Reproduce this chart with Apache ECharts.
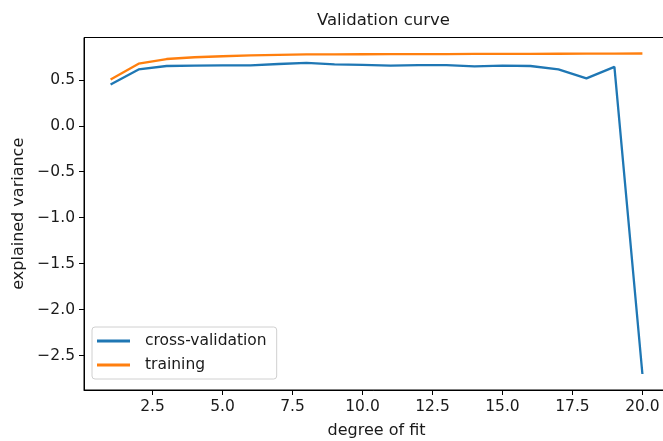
<!DOCTYPE html>
<html>
<head>
<meta charset="utf-8">
<script src="https://cdn.jsdelivr.net/npm/echarts@6/dist/echarts.min.js"></script>
<style>
  html, body { margin: 0; padding: 0; background: #fff; }
  #chart-container { width: 663px; height: 441px; }
</style>
</head>
<body>
<div id="chart-container"></div>
<script>
// degree of the polynomial fit
const degrees = [1, 2, 3, 4, 5, 6, 7, 8, 9, 10, 11, 12, 13, 14, 15, 16, 17, 18, 19, 20];
// explained variance scores
const cvScores = [0.45, 0.613, 0.65, 0.654, 0.657, 0.657, 0.672, 0.683, 0.668, 0.663,
                  0.654, 0.66, 0.66, 0.646, 0.654, 0.65, 0.613, 0.515, 0.64, -2.70];
const trainScores = [0.504, 0.675, 0.726, 0.745, 0.756, 0.765, 0.772, 0.776, 0.777, 0.778,
                     0.779, 0.780, 0.780, 0.781, 0.781, 0.782, 0.783, 0.784, 0.785, 0.786];
const xTicks = [2.5, 5.0, 7.5, 10.0, 12.5, 15.0, 17.5, 20.0];
const yTicks = [-2.5, -2.0, -1.5, -1.0, -0.5, 0.0, 0.5];

const FONT = "DejaVu Sans";
const TXT = "#1a1a1a";

function fmt(v) {
  // matplotlib uses a real minus sign
  return v < 0 ? "\u2212" + Math.abs(v).toFixed(1) : v.toFixed(1);
}

const chart = echarts.init(document.getElementById("chart-container"));

const option = {
  animation: false,
  backgroundColor: "#fff",
  title: {
    text: "Validation curve",
    left: 312,
    top: 7,
    textStyle: { fontFamily: FONT, fontSize: 16.5, fontWeight: "normal", color: TXT },
  },
  legend: {
    orient: "vertical",
    left: 92,
    top: 327,
    padding: [6, 10, 6, 5],
    itemGap: 8,
    itemWidth: 33,
    itemHeight: 3,
    icon: "rect",
    borderColor: "#d0d0d0",
    borderWidth: 1,
    borderRadius: 3,
    backgroundColor: "rgba(255,255,255,0.8)",
    textStyle: { fontFamily: FONT, fontSize: 15.5, color: TXT, padding: [0, 0, 0, 10] },
    data: ["cross-validation", "training"],
  },
  grid: {
    left: 84,
    top: 37.5,
    bottom: 51,
    right: -6,
    show: true,
    borderColor: "#000",
    borderWidth: 1,
    containLabel: false,
    outerBoundsMode: "none",
  },
  xAxis: {
    type: "value",
    min: 0.05,
    max: 20.95,
    name: "degree of fit",
    nameLocation: "middle",
    nameGap: 33,
    nameTextStyle: { fontFamily: FONT, fontSize: 16, color: TXT },
    axisLine: { show: true, onZero: false, lineStyle: { color: "#000", width: 1 } },
    axisTick: { show: true, length: 5, customValues: xTicks, lineStyle: { color: "#000" } },
    axisLabel: {
      customValues: xTicks,
      formatter: fmt,
      fontFamily: FONT,
      fontSize: 15.5,
      color: TXT,
      margin: 9,
    },
    splitLine: { show: false },
  },
  yAxis: {
    type: "value",
    min: -2.874,
    max: 0.96,
    name: "explained variance",
    nameLocation: "middle",
    nameGap: 56,
    nameRotate: 90,
    nameTextStyle: { fontFamily: FONT, fontSize: 16, color: TXT },
    axisLine: { show: true, onZero: false, lineStyle: { color: "#000", width: 1 } },
    axisTick: { show: true, length: 5, customValues: yTicks, lineStyle: { color: "#000" } },
    axisLabel: {
      customValues: yTicks,
      formatter: fmt,
      fontFamily: FONT,
      fontSize: 15.5,
      color: TXT,
      margin: 9,
    },
    splitLine: { show: false },
  },
  series: [
    {
      name: "cross-validation",
      type: "line",
      data: degrees.map((d, i) => [d, cvScores[i]]),
      symbol: "none",
      color: "#1f77b4",
      lineStyle: { width: 2.3, color: "#1f77b4" },
    },
    {
      name: "training",
      type: "line",
      data: degrees.map((d, i) => [d, trainScores[i]]),
      symbol: "none",
      color: "#ff7f0e",
      lineStyle: { width: 2.3, color: "#ff7f0e" },
    },
  ],
};

chart.setOption(option);
</script>
</body>
</html>
